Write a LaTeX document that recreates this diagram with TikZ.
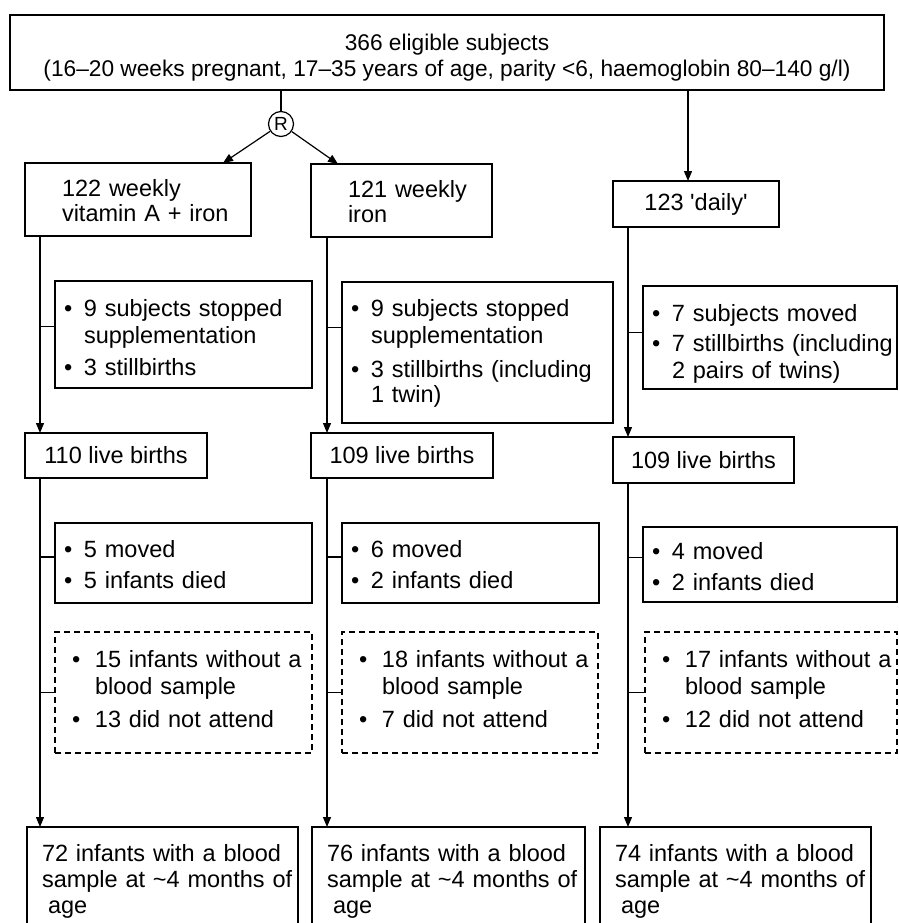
\documentclass[tikz,border=0pt]{standalone}
\usepackage{fontspec}
\setmainfont{Liberation Sans}
\usetikzlibrary{arrows.meta}

\newcommand{\lines}[2][0pt]{\begin{tabular}{@{}l@{}}\rule{0pt}{\dimexpr 18.9pt+#1\relax}#2\end{tabular}}
\newcommand{\bul}{\makebox[20pt][l]{\textbullet}}
\newcommand{\hng}{\hspace*{20pt}}
\newcommand{\bulw}{\makebox[23pt][l]{\textbullet}}
\newcommand{\hngw}{\hspace*{23pt}}

\tikzset{
  box/.style={draw, line width=1.5pt, anchor=north west, inner ysep=0pt, outer sep=0pt,
    align=left, font=\fontsize{23.5}{27}\selectfont},
  side/.style={box, inner xsep=9pt},
  miss/.style={box, inner xsep=17pt, dash pattern=on 6pt off 4pt},
  final/.style={box, inner xsep=15pt},
  link/.style={line width=1.2pt}
}

\begin{document}
\begin{tikzpicture}[x=1pt,y=-1pt,>={Triangle[length=10pt,width=8pt]}]
\useasboundingbox (0,0) rectangle (898,923);

\node[box, align=center, minimum width=874pt, minimum height=75pt, font=\fontsize{22.7}{26}\selectfont] (all) at (10,15)
  {\rule{0pt}{26pt}366 eligible subjects\\(16--20 weeks pregnant, 17--35 years of age, parity <6, haemoglobin 80--140 g/l)};

\node[draw, circle, line width=1.2pt, minimum size=25pt, inner sep=0pt, font=\fontsize{19}{19}\selectfont] (rnd) at (281,124) {R};

\node[box, minimum width=226pt, minimum height=73pt, text width=152pt, inner xsep=37pt] (g1) at (25,163)
  {\lines[8pt]{122 weekly\\[-2pt]vitamin A + iron}};
\node[box, minimum width=181pt, minimum height=73pt, text width=107pt, inner xsep=37pt] (g2) at (311,164)
  {\lines[8pt]{121 weekly\\[-2pt]iron}};
\node[box, align=center, minimum width=166pt, minimum height=46pt] (g3) at (613,181)
  {123 \textquotesingle daily\textquotesingle};

\node[side, text width=239pt, minimum height=107pt] (a1) at (55,281)
  {\lines[12pt]{\bul 9 subjects stopped\\ \hng supplementation\\[5pt] \bul 3 stillbirths}};
\node[side, text width=253pt, minimum height=141pt] (a2) at (342,282)
  {\lines[4pt]{\bul 9 subjects stopped\\ \hng supplementation\\[7pt] \bul 3 stillbirths (including\\[-2pt] \hng 1 twin)}};
\node[side, text width=236pt, minimum height=103pt] (a3) at (643,286)
  {\lines[14pt]{\bul 7 subjects moved\\[3pt] \bul 7 stillbirths (including\\ \hng 2 pairs of twins)}};

\node[box, align=center, minimum width=182pt, minimum height=45pt] (l1) at (25,433) {110 live births};
\node[box, align=center, minimum width=182pt, minimum height=45pt] (l2) at (311,433) {109 live births};
\node[box, align=center, minimum width=181pt, minimum height=46pt] (l3) at (613,437) {109 live births};

\node[side, text width=239pt, minimum height=80pt] (m1) at (55,523)
  {\lines[10pt]{\bul 5 moved\\[4pt] \bul 5 infants died}};
\node[side, text width=239pt, minimum height=80pt] (m2) at (342,523)
  {\lines[10pt]{\bul 6 moved\\[4pt] \bul 2 infants died}};
\node[side, text width=236pt, minimum height=75pt] (m3) at (643,527)
  {\lines[10pt]{\bul 4 moved\\[4pt] \bul 2 infants died}};

\node[miss, text width=223pt, minimum height=121pt] (d1) at (55,632)
  {\lines{\bulw 15 infants without a\\ \hngw blood sample\\[6pt] \bulw 13 did not attend}};
\node[miss, text width=222pt, minimum height=121pt] (d2) at (342,632)
  {\lines{\bulw 18 infants without a\\ \hngw blood sample\\[6pt] \bulw 7 did not attend}};
\node[miss, text width=218pt, minimum height=121pt] (d3) at (645,632)
  {\lines{\bulw 17 infants without a\\ \hngw blood sample\\[6pt] \bulw 12 did not attend}};

\node[final, text width=241pt, minimum height=110pt] (b1) at (27,827)
  {\lines{72 infants with a blood\\[-1pt]sample at \textasciitilde4 months of\\[-1pt]\hspace*{6pt}age}};
\node[final, text width=243pt, minimum height=110pt] (b2) at (312,827)
  {\lines{76 infants with a blood\\[-1pt]sample at \textasciitilde4 months of\\[-1pt]\hspace*{6pt}age}};
\node[final, text width=241pt, minimum height=110pt] (b3) at (600,827)
  {\lines{74 infants with a blood\\[-1pt]sample at \textasciitilde4 months of\\[-1pt]\hspace*{6pt}age}};

\coordinate (k1) at (40,0);
\coordinate (k2) at (327,0);
\coordinate (k3) at (628,0);
\coordinate (kd) at (688,0);

\draw[link] (all.south -| rnd) -- (rnd);
\draw[link,->] (rnd) -- ([xshift=-28pt]g1.north east);
\draw[link,->] (rnd) -- ([xshift=27pt]g2.north west);
\draw[link,->] (all.south -| kd) -- (g3.north -| kd);

\draw[link,->] (g1.south -| k1) -- (l1.north -| k1);
\draw[link,->] (g2.south -| k2) -- (l2.north -| k2);
\draw[link,->] (g3.south -| k3) -- (l3.north -| k3);

\draw[link,->] (l1.south -| k1) -- (b1.north -| k1);
\draw[link,->] (l2.south -| k2) -- (b2.north -| k2);
\draw[link,->] (l3.south -| k3) -- (b3.north -| k3);

\draw[link] ([yshift=8pt]a1.west) -- ([yshift=8pt]a1.west -| k1);
\draw[link] ([yshift=25pt]a2.west) -- ([yshift=25pt]a2.west -| k2);
\draw[link] ([yshift=5pt]a3.west) -- ([yshift=5pt]a3.west -| k3);

\draw[link] ([yshift=6pt]m1.west) -- ([yshift=6pt]m1.west -| k1);
\draw[link] ([yshift=6pt]m2.west) -- ([yshift=6pt]m2.west -| k2);
\draw[link] ([yshift=7pt]m3.west) -- ([yshift=7pt]m3.west -| k3);

\draw[link] (d1.west) -- (d1.west -| k1);
\draw[link] (d2.west) -- (d2.west -| k2);
\draw[link] (d3.west) -- (d3.west -| k3);
\end{tikzpicture}
\end{document}
